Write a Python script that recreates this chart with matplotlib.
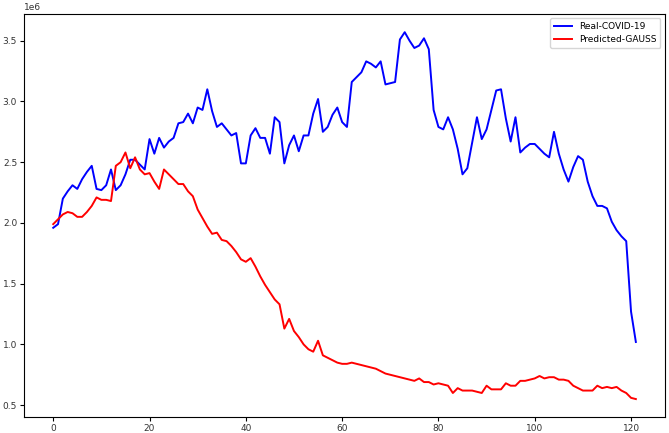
import matplotlib
matplotlib.use("Agg")
import matplotlib.pyplot as plt

# === Data (values in units of 1e6) ===
real_covid = [
    1.96, 1.99, 2.20, 2.26, 2.31, 2.28, 2.36, 2.42, 2.47, 2.28,
    2.27, 2.31, 2.44, 2.27, 2.31, 2.40, 2.52, 2.52, 2.48, 2.44,
    2.69, 2.57, 2.70, 2.62, 2.67, 2.70, 2.82, 2.83, 2.90, 2.82,
    2.95, 2.93, 3.10, 2.92, 2.79, 2.82, 2.77, 2.72, 2.74, 2.49,
    2.49, 2.72, 2.78, 2.70, 2.70, 2.57, 2.87, 2.83, 2.49, 2.64,
    2.72, 2.59, 2.72, 2.72, 2.90, 3.02, 2.75, 2.79, 2.89, 2.95,
    2.83, 2.79, 3.16, 3.20, 3.24, 3.33, 3.31, 3.28, 3.33, 3.14,
    3.15, 3.16, 3.51, 3.57, 3.50, 3.44, 3.46, 3.52, 3.43, 2.93,
    2.79, 2.77, 2.87, 2.77, 2.61, 2.40, 2.45, 2.66, 2.87, 2.69,
    2.77, 2.93, 3.09, 3.10, 2.86, 2.67, 2.87, 2.58, 2.62, 2.65,
    2.65, 2.61, 2.57, 2.54, 2.75, 2.57, 2.44, 2.34, 2.46, 2.55,
    2.52, 2.34, 2.22, 2.14, 2.14, 2.12, 2.01, 1.94, 1.89, 1.85,
    1.27, 1.02,
]
predicted_gauss = [
    1.99, 2.03, 2.07, 2.09, 2.08, 2.05, 2.05, 2.09, 2.14, 2.21,
    2.19, 2.19, 2.18, 2.47, 2.50, 2.58, 2.45, 2.54, 2.44, 2.40,
    2.41, 2.34, 2.28, 2.44, 2.40, 2.36, 2.32, 2.32, 2.26, 2.22,
    2.11, 2.04, 1.97, 1.91, 1.92, 1.86, 1.85, 1.81, 1.76, 1.70,
    1.68, 1.71, 1.64, 1.56, 1.49, 1.43, 1.37, 1.33, 1.13, 1.21,
    1.11, 1.06, 1.00, 0.96, 0.94, 1.03, 0.91, 0.89, 0.87, 0.85,
    0.84, 0.84, 0.85, 0.84, 0.83, 0.82, 0.81, 0.80, 0.78, 0.76,
    0.75, 0.74, 0.73, 0.72, 0.71, 0.70, 0.72, 0.69, 0.69, 0.67,
    0.68, 0.67, 0.66, 0.60, 0.64, 0.62, 0.62, 0.62, 0.61, 0.60,
    0.66, 0.63, 0.63, 0.63, 0.68, 0.66, 0.66, 0.70, 0.70, 0.71,
    0.72, 0.74, 0.72, 0.73, 0.73, 0.71, 0.71, 0.70, 0.66, 0.64,
    0.62, 0.62, 0.62, 0.66, 0.64, 0.65, 0.64, 0.65, 0.62, 0.60,
    0.56, 0.55,
]
days = list(range(len(real_covid)))

real_vals = [v * 1e6 for v in real_covid]
pred_vals = [v * 1e6 for v in predicted_gauss]

plt.rcParams['font.size'] = 6.5

fig, ax = plt.subplots(figsize=(6.69, 4.33), dpi=100)
ax.plot(days, real_vals, color='blue', linewidth=1.4, label="Real-COVID-19")
ax.plot(days, pred_vals, color='red', linewidth=1.4, label="Predicted-GAUSS")
ax.legend(loc='upper right', fontsize=6.5)
ax.tick_params(length=3, pad=2, labelcolor='#333333')
fig.subplots_adjust(left=0.036, right=0.994, top=0.968, bottom=0.036)
plt.savefig("out.png")
